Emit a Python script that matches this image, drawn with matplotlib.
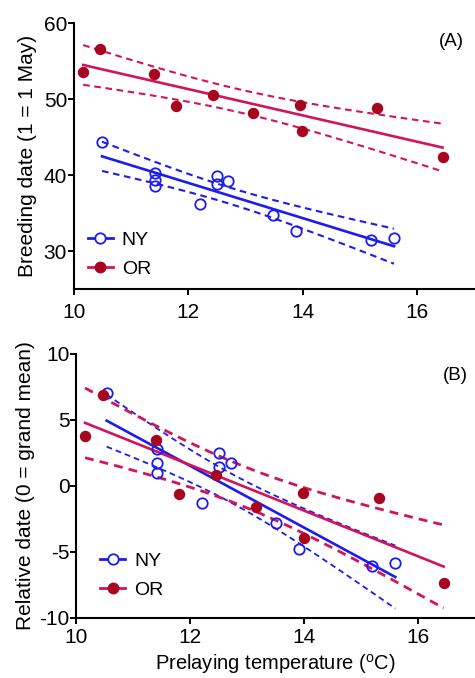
import numpy as np
import matplotlib
matplotlib.use("Agg")
import matplotlib.pyplot as plt

plt.rcParams['font.family'] = ['Liberation Sans', 'DejaVu Sans']

# Panel A: breeding date vs prelaying temperature
ny_temp_a = [10.49, 11.41, 11.41, 11.41, 12.21, 12.50, 12.50, 12.70, 13.49, 13.89, 15.20, 15.60]
ny_date_a = [44.4, 40.3, 39.3, 38.5, 36.2, 39.9, 38.8, 39.2, 34.7, 32.7, 31.5, 31.7]
or_temp_a = [10.16, 10.45, 11.40, 11.79, 12.43, 13.13, 13.96, 13.99, 15.31, 16.45]
or_date_a = [53.5, 56.6, 53.3, 49.1, 50.5, 48.2, 49.2, 45.8, 48.8, 42.4]

# Panel B: relative date (0 = grand mean)
ny_temp_b = [10.53, 11.41, 11.41, 11.41, 12.21, 12.51, 12.51, 12.71, 13.50, 13.90, 15.19, 15.60]
ny_rel_b = [7.02, 2.78, 1.77, 0.96, -1.31, 2.48, 1.42, 1.77, -2.78, -4.77, -6.06, -5.86]
or_temp_b = [10.15, 10.46, 11.40, 11.80, 12.45, 13.15, 13.98, 14.00, 15.32, 16.45]
or_rel_b = [3.79, 6.89, 3.48, -0.63, 0.83, -1.57, -0.51, -3.97, -0.91, -7.37]

# two-sided 95% t critical values by residual df
T95 = {8: 2.306, 10: 2.228}

NY_COL = '#1c1cf0'
OR_MARK = '#a8061f'
OR_LINE = '#d4145a'


def fit_ci(x, y):
    x = np.asarray(x)
    y = np.asarray(y)
    n = len(x)
    slope, icpt = np.polyfit(x, y, 1)
    resid = y - (slope * x + icpt)
    s = np.sqrt(np.sum(resid ** 2) / (n - 2))
    sxx = np.sum((x - x.mean()) ** 2)
    xs = np.linspace(x.min(), x.max(), 60)
    yhat = slope * xs + icpt
    half = T95[n - 2] * s * np.sqrt(1.0 / n + (xs - x.mean()) ** 2 / sxx)
    return xs, yhat, yhat - half, yhat + half


def draw_group(ax, x, y, color_mark, color_line, filled, label, lw_fit, lw_band):
    xs, yhat, lo, hi = fit_ci(x, y)
    ax.plot(xs, yhat, color=color_line, lw=lw_fit, zorder=2)
    ax.plot(xs, lo, color=color_line, lw=lw_band, ls=(0, (3.2, 2.2)), zorder=2)
    ax.plot(xs, hi, color=color_line, lw=lw_band, ls=(0, (3.2, 2.2)), zorder=2)
    if filled:
        ax.plot(x, y, 'o', ms=7.2, color=color_mark, mec=color_mark, zorder=3)
    else:
        ax.plot(x, y, 'o', ms=7.5, mfc='none', mec=color_mark, mew=1.3, zorder=3)
    # legend proxy: marker with a short line through it
    ax.plot([], [], marker='o', ms=7.2 if filled else 7.5, color=color_line,
            mfc=color_mark if filled else 'white', mec=color_mark,
            mew=1.3, lw=2.0, label=label)


def style_axes(ax, pad):
    for side in ('top', 'right'):
        ax.spines[side].set_visible(False)
    for side in ('left', 'bottom'):
        ax.spines[side].set_linewidth(1.5)
    ax.tick_params(direction='out', length=4, width=1.4, labelsize=15)
    ax.tick_params(axis='x', pad=pad)
    ax.tick_params(axis='y', pad=1)
    ax.set_xlim(10, 17)
    ax.set_xticks([10, 12, 14, 16])


fig = plt.figure(figsize=(4.75, 6.78), dpi=100)
ax1 = fig.add_axes([0.1558, 0.5737, 0.842, 0.3923])
ax2 = fig.add_axes([0.161, 0.0885, 0.839, 0.3894])

draw_group(ax1, ny_temp_a, ny_date_a, NY_COL, NY_COL, False, 'NY', 1.9, 1.5)
draw_group(ax1, or_temp_a, or_date_a, OR_MARK, OR_LINE, True, 'OR', 1.9, 1.5)
style_axes(ax1, 6)
ax1.set_ylim(25, 60)
ax1.set_yticks([30, 40, 50, 60])
ax1.set_ylabel('Breeding date (1 = 1 May)', fontsize=15, labelpad=5)
ax1.text(0.944, 0.93, '(A)', transform=ax1.transAxes, fontsize=13.5,
         ha='center', va='center')
ax1.legend(loc='lower left', bbox_to_anchor=(0.0, -0.01), frameon=False,
           fontsize=14, handlelength=1.3, handletextpad=0.45,
           labelspacing=0.6, borderpad=0.2)

draw_group(ax2, ny_temp_b, ny_rel_b, NY_COL, NY_COL, False, 'NY', 1.9, 1.3)
draw_group(ax2, or_temp_b, or_rel_b, OR_MARK, OR_LINE, True, 'OR', 1.9, 2.0)
style_axes(ax2, 3)
ax2.set_ylim(-10, 10)
ax2.set_yticks([-10, -5, 0, 5, 10])
ax2.set_yticklabels(['-10', '-5', '0', '5', '10'])
ax2.set_ylabel('Relative date (0 = grand mean)', fontsize=15, labelpad=3)
ax2.set_xlabel('Prelaying temperature ($\\mathregular{^{o}}$C)', fontsize=14.5,
               labelpad=4)
ax2.text(0.952, 0.92, '(B)', transform=ax2.transAxes, fontsize=13.5,
         ha='center', va='center')
ax2.legend(loc='lower left', bbox_to_anchor=(0.025, 0.02), frameon=False,
           fontsize=14, handlelength=1.3, handletextpad=0.45,
           labelspacing=0.6, borderpad=0.2)

fig.savefig('out.png', dpi=100)
